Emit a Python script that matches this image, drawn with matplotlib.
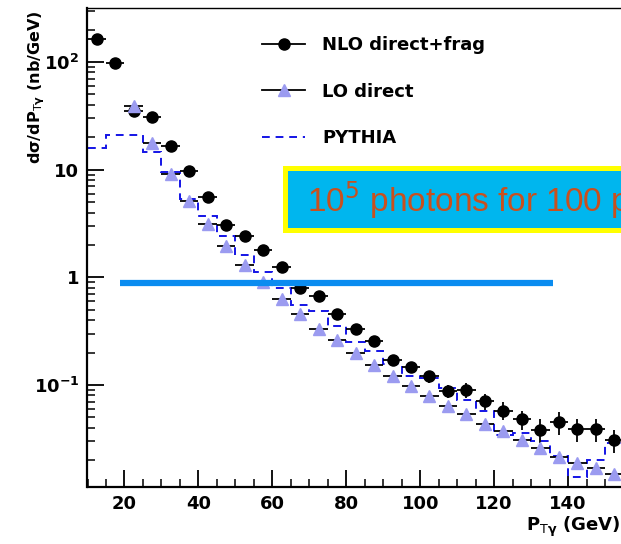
import matplotlib
matplotlib.use('Agg')
from matplotlib import pyplot as plt
from matplotlib.patches import Rectangle
from matplotlib.lines import Line2D
from matplotlib.ticker import FixedLocator, MultipleLocator, LogLocator, NullFormatter

plt.rcParams['font.family'] = ['DejaVu Sans']
plt.rcParams['mathtext.default'] = 'bf'

# NLO direct+frag, bin centres and values
nlo_pt = [12.5, 17.5, 22.5, 27.5, 32.5, 37.5, 42.5, 47.5, 52.5, 57.5, 62.5, 67.5, 72.5,
          77.5, 82.5, 87.5, 92.5, 97.5, 102.5, 107.5, 112.5, 117.5, 122.5, 127.5, 132.5,
          137.5, 142.5, 147.5, 152.5]
nlo_val = [164, 98, 34.8, 30.6, 16.6, 9.8, 5.57, 3.04, 2.40, 1.78, 1.25, 0.80, 0.67,
           0.46, 0.329, 0.256, 0.169, 0.147, 0.120, 0.088, 0.090, 0.071, 0.058, 0.048, 0.0386,
           0.045, 0.0389, 0.0389, 0.0307]
nlo_err = [3, 2, 0.7, 0.6, 0.3, 0.2, 0.1, 0.06, 0.05, 0.04, 0.03, 0.02, 0.02,
           0.014, 0.01, 0.01, 0.018, 0.016, 0.016, 0.013, 0.014, 0.012, 0.011, 0.010, 0.0095,
           0.011, 0.0095, 0.0095, 0.0075]

# LO direct
lo_pt = [22.5, 27.5, 32.5, 37.5, 42.5, 47.5, 52.5, 57.5, 62.5, 67.5, 72.5, 77.5, 82.5,
         87.5, 92.5, 97.5, 102.5, 107.5, 112.5, 117.5, 122.5, 127.5, 132.5, 137.5, 142.5,
         147.5, 152.5]
lo_val = [38.7, 17.7, 9.2, 5.1, 3.1, 1.95, 1.29, 0.90, 0.634, 0.46, 0.333, 0.26, 0.198,
          0.155, 0.12, 0.098, 0.079, 0.0634, 0.0535, 0.0438, 0.0374, 0.0311, 0.026, 0.0215, 0.0189,
          0.017, 0.0148]

# PYTHIA histogram
py_edges = [10, 15, 20, 25, 30, 35, 40, 45, 50, 55, 60, 65, 70, 75, 80, 85, 90, 95, 100,
            105, 110, 115, 120, 125, 130, 135, 140, 145, 150, 155]
py_val = [15.8, 20.8, 20.8, 14.5, 9.5, 5.3, 3.7, 2.42, 1.60, 1.12, 0.79, 0.55, 0.49, 0.35,
          0.25, 0.205, 0.158, 0.12, 0.115, 0.093, 0.072, 0.058, 0.034, 0.036, 0.030, 0.022,
          0.014, 0.020, 0.029]

half_bin = 2.5
line_y = 0.88
line_x = (18.8, 136)

lo_color = '#9b9bf0'
py_color = '#1414e6'

fig = plt.figure(figsize=(6.21, 5.44), dpi=100)
ax = fig.add_axes([87.5 / 621, 57 / 544, 1 - 87.5 / 621, 479 / 544])

ax.stairs(py_val, py_edges, baseline=None, color=py_color, lw=1.4, ls=(0, (4, 3)), zorder=2)
ax.errorbar(nlo_pt, nlo_val, xerr=half_bin, yerr=nlo_err, fmt='o', color='black',
            ms=8, elinewidth=1.3, capsize=0, zorder=3)
ax.errorbar(lo_pt, lo_val, xerr=half_bin, fmt='^', color='black', mfc=lo_color, mec=lo_color,
            ms=9, elinewidth=1.3, capsize=0, zorder=4)
ax.hlines(line_y, line_x[0], line_x[1], color='#0a8cf0', lw=4.5, zorder=5)

ax.set_yscale('log')
ax.set_xlim(10, 154.3)
ax.set_ylim(0.0113, 317)

ax.xaxis.set_major_locator(FixedLocator([20, 40, 60, 80, 100, 120, 140]))
ax.xaxis.set_minor_locator(MultipleLocator(5))
ax.yaxis.set_minor_locator(LogLocator(base=10, subs=[2, 3, 4, 5, 6, 7, 8, 9]))
ax.yaxis.set_minor_formatter(NullFormatter())
ax.set_yticks([0.1, 1, 10, 100])
ax.set_yticklabels(['10$^{-1}$', '1', '10', '10$^{2}$'])

ax.tick_params(which='major', direction='in', length=12, width=1.3, labelsize=13,
               top=False, right=False, pad=6)
ax.tick_params(which='minor', direction='in', length=6, width=1.1, top=False, right=False)
for lab in ax.get_xticklabels() + ax.get_yticklabels():
    lab.set_fontweight('bold')

ax.spines['right'].set_visible(False)
ax.spines['left'].set_linewidth(1.6)
ax.spines['bottom'].set_linewidth(1.6)
ax.spines['top'].set_linewidth(1.0)

ax.set_ylabel('d$\\sigma$/dP$_{\\mathrm{T}\\gamma}$ (nb/GeV)', fontsize=11.5, fontweight='bold', loc='top')
ax.yaxis.set_label_coords(-0.076, 0.996)
fig.text(0.999, 0.032, 'P$_{\\mathrm{T}\\gamma}$ (GeV)', fontsize=13, fontweight='bold',
         ha='right', va='center')

handles = [Line2D([], [], color='black', marker='o', ms=8, lw=1.3),
           Line2D([], [], color='black', marker='^', mfc=lo_color, mec=lo_color, ms=9, lw=1.3),
           Line2D([], [], color=py_color, lw=1.4, ls=(0, (4, 3)))]
labels = ['NLO direct+frag', 'LO direct', 'PYTHIA']
leg = ax.legend(handles, labels, loc='upper left', bbox_to_anchor=(0.327, 0.941),
                frameon=False, fontsize=13, handlelength=2.4, labelspacing=1.57,
                handletextpad=0.95, borderpad=0, borderaxespad=0)
for t in leg.get_texts():
    t.set_fontweight('bold')

# highlighted note box, cut off at the right edge
fig.patches.append(Rectangle((285 / 621, 1 - 230 / 544), 0.6, 62 / 544, transform=fig.transFigure,
                             facecolor='#00b6ee', edgecolor='#ffff00', lw=3.6, zorder=10))
fig.text(307 / 621, 1 - 200 / 544, '10$^{\\mathrm{5}}$ photons for 100 pb$^{\\mathrm{-1}}$',
         family='Liberation Sans', fontsize=24, color='#c8501e', ha='left', va='center', zorder=11)

fig.savefig('out.png', dpi=100)
